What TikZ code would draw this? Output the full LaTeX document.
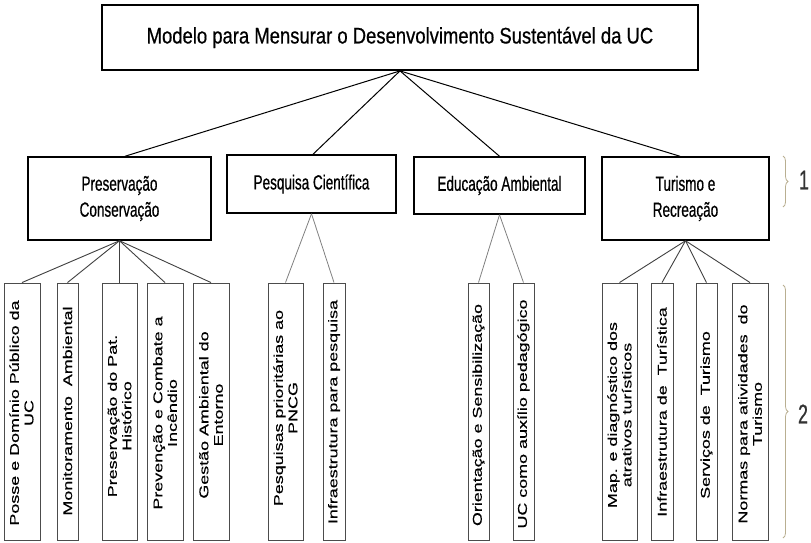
\documentclass[tikz,border=0pt]{standalone}
\usepackage{fontspec}
\setmainfont{Liberation Sans}
\newfontfamily\titlefont[FakeStretch=0.82,FakeBold=0.6]{Liberation Sans}
\newfontfamily\catfont[FakeStretch=0.66,FakeBold=0.6]{Liberation Sans}
\newfontfamily\itemfont[FakeStretch=1.40,FakeBold=0.4]{Liberation Sans}
\usetikzlibrary{decorations.pathreplacing}
\definecolor{bracecol}{RGB}{185,175,145}
\begin{document}
\begin{tikzpicture}[x=1pt,y=-1pt,
  mainbox/.style={draw=black, line width=1.8pt, inner sep=0pt,
    minimum width=596pt, minimum height=65pt,
    font=\titlefont\fontsize{22.5}{27}\selectfont},
  catbox/.style={draw=black, line width=1.5pt, inner sep=0pt, align=center,
    font=\catfont\fontsize{20.5}{26}\selectfont},
  itembox/.style={draw=black!70, line width=0.9pt, inner sep=0pt,
    minimum height=257pt},
  itemtext/.style={rotate=90, align=center, inner sep=0pt, text=black,
    font=\itemfont\fontsize{12.8}{14.5}\selectfont},
  link/.style={draw=black, line width=1pt},
  sublink/.style={draw=black!75, line width=0.9pt},
  lightlink/.style={draw=black!50, line width=0.8pt},
  levelbrace/.style={draw=bracecol, line width=0.8pt,
    decorate, decoration={brace, amplitude=5pt}},
  levellabel/.style={text=black!80, inner sep=0pt,
    font=\catfont\fontsize{27}{30}\selectfont}]

\useasboundingbox (0,0) rectangle (811,542);

% root
\node[mainbox] (top) at (400,37.5) {Modelo para Mensurar o Desenvolvimento Sustentável da UC};

% first level
\node[catbox, minimum width=183pt, minimum height=83pt] (pres) at (119.5,198.5) {Preservação\\Conservação};
\node[catbox, minimum width=169pt, minimum height=58pt] (pesq) at (311.5,184) {Pesquisa Científica};
\node[catbox, minimum width=171pt, minimum height=57pt] (educ) at (499.5,185.5) {Educação Ambiental};
\node[catbox, minimum width=167pt, minimum height=83pt] (tur) at (685.5,198.5) {Turismo e\\Recreação};

\draw[link] (top.south) -- ([xshift=5.5pt]pres.north);
\draw[link] (top.south) -- ([xshift=1.5pt]pesq.north);
\draw[link] (top.south) -- (educ.north);
\draw[link] (top.south) -- ([xshift=-5.5pt]tur.north);

% second level: boxes
\node[itembox, minimum width=36pt] (a) at (22,411.5) {};
\node[itembox, minimum width=21pt] (b) at (67.5,411.5) {};
\node[itembox, minimum width=35pt] (c) at (119.5,411.5) {};
\node[itembox, minimum width=36pt] (d) at (165,411.5) {};
\node[itembox, minimum width=36pt] (e) at (211,411.5) {};
\node[itembox, minimum width=35pt] (f) at (285.5,411.5) {};
\node[itembox, minimum width=22pt] (g) at (334,411.5) {};
\node[itembox, minimum width=21pt] (h) at (478.5,411.5) {};
\node[itembox, minimum width=21pt] (i) at (523.5,411.5) {};
\node[itembox, minimum width=35pt] (j) at (619.5,411.5) {};
\node[itembox, minimum width=22pt] (k) at (662,411.5) {};
\node[itembox, minimum width=21pt] (l) at (706.5,411.5) {};
\node[itembox, minimum width=36pt] (m) at (750,411.5) {};

% second level: labels
\node[itemtext] (ta) at (21.5,413) {Posse e Domínio Público da\\UC};
\node[itemtext] (tb) at (67.5,411) {Monitoramento\ \ Ambiental};
\node[itemtext] (tc) at (119.5,416) {Preservação do Pat.\\Histórico};
\node[itemtext] (td) at (165,413) {Prevenção e Combate a\\Incêndio};
\node[itemtext] (te) at (211,415) {Gestão Ambiental do\\Entorno};
\node[itemtext] (tf) at (285.5,408) {Pesquisas prioritárias ao\\PNCG};
\node[itemtext] (tg) at (334,412) {Infraestrutura para pesquisa};
\node[itemtext] (th) at (478.5,415) {Orientação e Sensibilização};
\node[itemtext] (ti) at (523.5,414) {UC como auxílio pedagógico};
\node[itemtext] (tj) at (619.5,415) {Map. e diagnóstico dos\\atrativos turísticos};
\node[itemtext] (tk) at (662,412) {Infraestrutura de\ \ Turística};
\node[itemtext] (tl) at (706.5,415) {Serviços de\ \ Turismo};
\node[itemtext] (tm) at (750,414) {Normas para atividades\ \ do\\Turismo};

% second level: connectors
\foreach \n in {a,b,c,d,e} \draw[sublink] (pres.south) -- (\n.north);
\foreach \n in {f,g} \draw[lightlink] (pesq.south) -- (\n.north);
\foreach \n in {h,i} \draw[lightlink] (educ.south) -- (\n.north);
\foreach \n in {j,k,l,m} \draw[sublink] (tur.south) -- (\n.north);

% level markers
\coordinate (b1s) at (783,156);
\coordinate (b1e) at (783,207);
\coordinate (b2s) at (783,285);
\coordinate (b2e) at (783,538);
\draw[levelbrace] (b1s) -- (b1e);
\draw[levelbrace] (b2s) -- (b2e);
\node[levellabel] (l1) at (804,180) {1};
\node[levellabel] (l2) at (803,414) {2};

\end{tikzpicture}
\end{document}
